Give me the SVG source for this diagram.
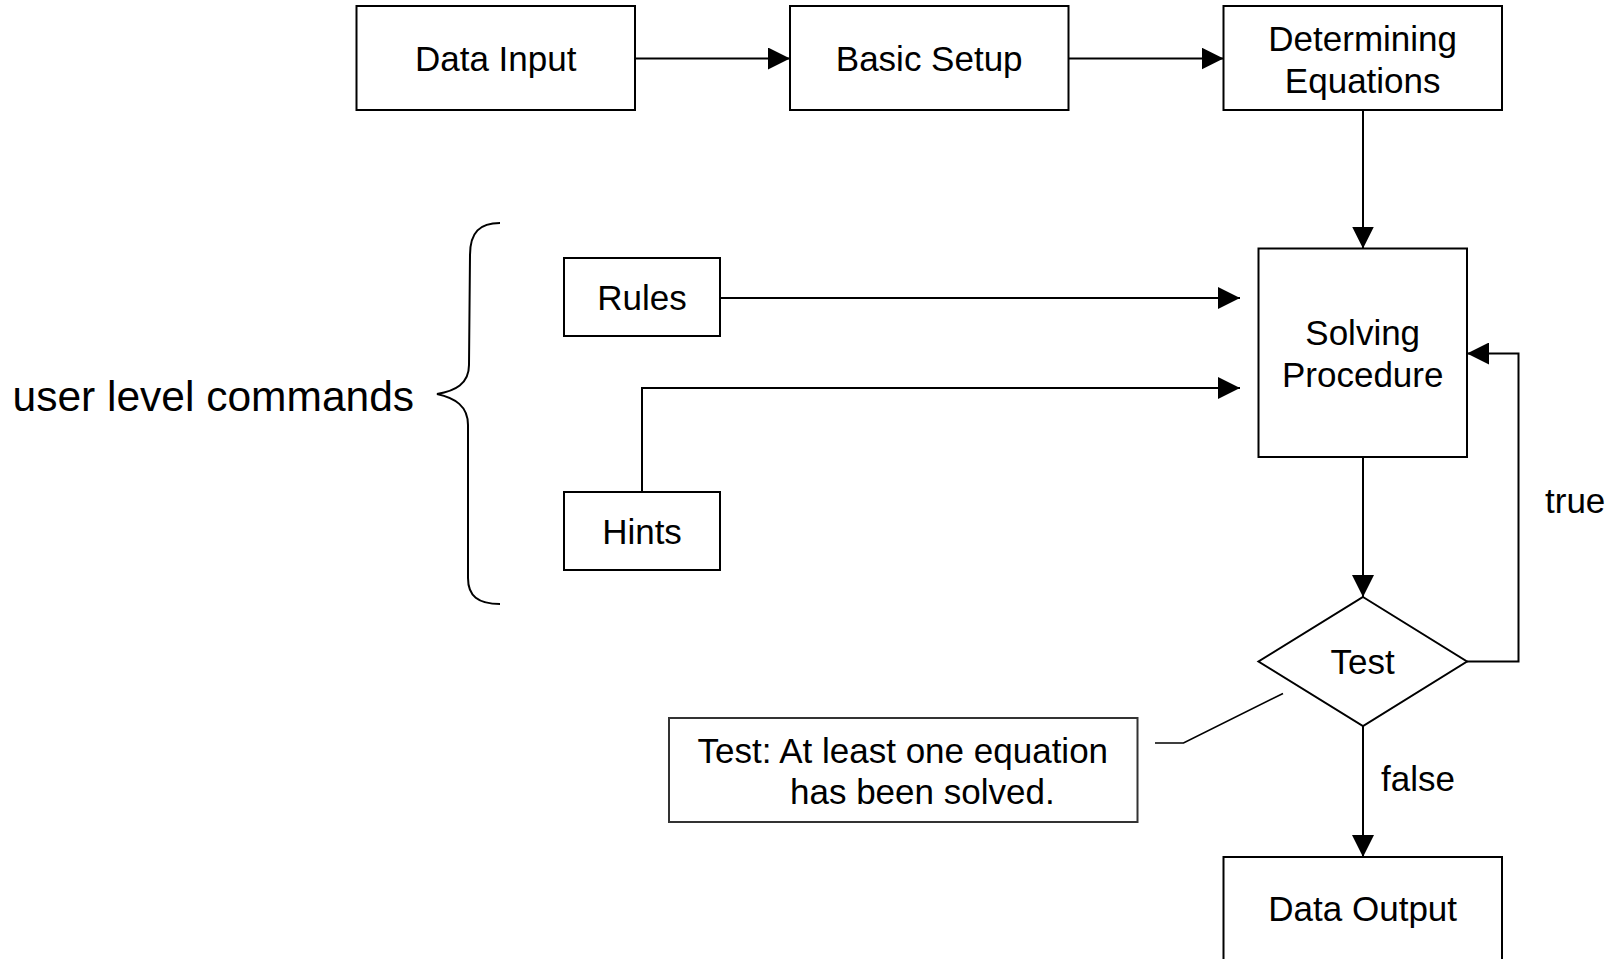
<svg xmlns="http://www.w3.org/2000/svg" width="1611" height="959" viewBox="0 0 1611 959">
<style>
.box{fill:#fff;stroke:#000;stroke-width:2}
.ln{fill:none;stroke:#000;stroke-width:2}
.t{font-family:"Liberation Sans",Arial,sans-serif;font-size:35px;fill:#000}
.c{text-anchor:middle}
</style>
<defs>
<marker id="ah" markerUnits="userSpaceOnUse" markerWidth="22" markerHeight="22" refX="22" refY="11" orient="auto">
<path d="M0,0 L22,11 L0,22 z" fill="#000"/>
</marker>
</defs>
<rect width="1611" height="959" fill="#fff"/>
<g id="connectors">
<line class="ln" x1="635" y1="58.5" x2="790" y2="58.5" marker-end="url(#ah)"/>
<line class="ln" x1="1068.5" y1="58.5" x2="1223.5" y2="58.5" marker-end="url(#ah)"/>
<line class="ln" x1="1363" y1="110" x2="1363" y2="248.5" marker-end="url(#ah)"/>
<line class="ln" x1="720" y1="298" x2="1240" y2="298" marker-end="url(#ah)"/>
<polyline class="ln" points="642,492 642,388 1240,388" marker-end="url(#ah)"/>
<line class="ln" x1="1363" y1="457" x2="1363" y2="597" marker-end="url(#ah)"/>
<polyline class="ln" points="1467,661.5 1518.5,661.5 1518.5,353.5 1467,353.5" marker-end="url(#ah)"/>
<line class="ln" x1="1363" y1="726" x2="1363" y2="857" marker-end="url(#ah)"/>
<polyline class="ln" points="1155,743 1183.5,743 1283,693.5" style="stroke-width:1.6"/>
<path class="ln" d="M500,223 C480,223 470,232 470,255 L469,365 C469,384 455,391 437,394 C455,398 468,406 468,425 L468,578 C468,596 478,604 500,604"/>
</g>
<g id="data-input">
<rect class="box" x="356.5" y="6" width="278.5" height="104"/>
<text class="t c" x="495.7" y="71">Data Input</text>
</g>
<g id="basic-setup">
<rect class="box" x="790" y="6" width="278.5" height="104"/>
<text class="t c" x="929.2" y="71">Basic Setup</text>
</g>
<g id="determining-equations">
<rect class="box" x="1223.5" y="6" width="278.5" height="104"/>
<text class="t c" x="1362.7" y="51">Determining</text>
<text class="t c" x="1362.7" y="93">Equations</text>
</g>
<g id="solving-procedure">
<rect class="box" x="1258.5" y="248.5" width="208.5" height="208.5"/>
<text class="t c" x="1362.7" y="345">Solving</text>
<text class="t c" x="1362.7" y="387">Procedure</text>
</g>
<g id="rules">
<rect class="box" x="564" y="258" width="156" height="78"/>
<text class="t c" x="642" y="310">Rules</text>
</g>
<g id="hints">
<rect class="box" x="564" y="492" width="156" height="78"/>
<text class="t c" x="642" y="544">Hints</text>
</g>
<g id="test">
<polygon class="box" points="1363,597 1467,661.5 1363,726 1258.5,661.5"/>
<text class="t c" x="1362.7" y="674">Test</text>
</g>
<g id="data-output">
<rect class="box" x="1223.5" y="857" width="278.5" height="120"/>
<text class="t c" x="1362.7" y="921">Data Output</text>
</g>
<g id="test-note">
<rect class="box" x="669" y="718" width="468.5" height="104" style="stroke:#333"/>
<text class="t" x="697.5" y="763">Test: At least one equation</text>
<text class="t" x="790" y="804">has been solved.</text>
</g>
<g id="labels">
<text class="t" x="1545" y="513">true</text>
<text class="t" x="1381" y="791">false</text>
<text class="t" x="12.5" y="411" style="font-size:42.5px">user level commands</text>
</g>
</svg>
